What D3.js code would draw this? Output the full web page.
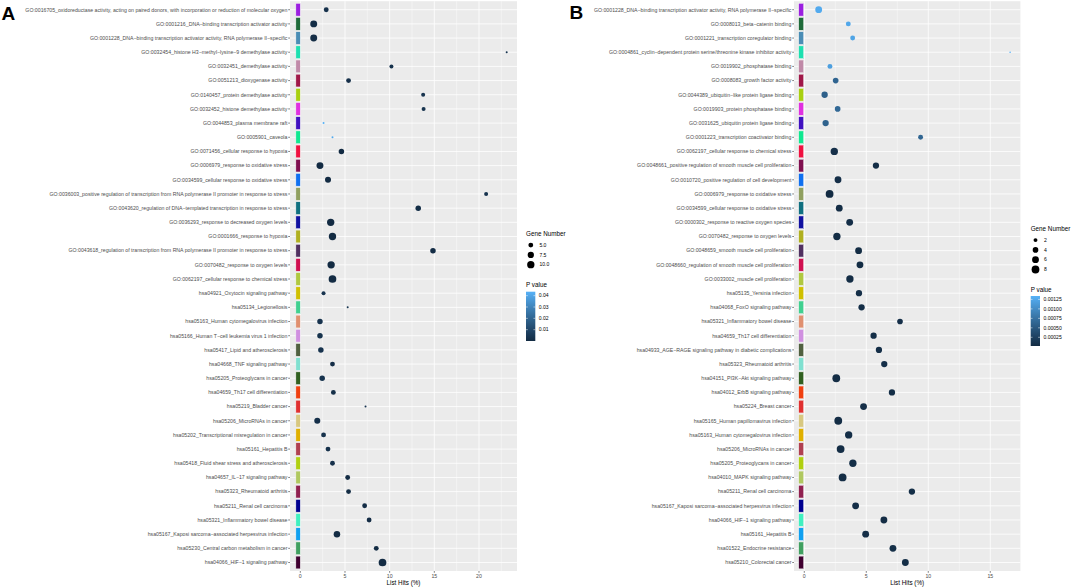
<!DOCTYPE html>
<html>
<head>
<meta charset="utf-8">
<script src="https://cdn.jsdelivr.net/npm/d3@7"></script>
<style>
  body { margin: 0; background: #fff; }
  svg { display: block; font-family: "Liberation Sans", Arial, sans-serif; }
</style>
</head>
<body>
<div class="container"></div>
<script>
// ---- panel A data ----
const termsA = [
  "GO:0016705_oxidoreductase activity, acting on paired donors, with incorporation or reduction of molecular oxygen",
  "GO:0001216_DNA\u2212binding transcription activator activity",
  "GO:0001228_DNA\u2212binding transcription activator activity, RNA polymerase II\u2212specific",
  "GO:0032454_histone H3\u2212methyl\u2212lysine\u22129 demethylase activity",
  "GO:0032451_demethylase activity",
  "GO:0051213_dioxygenase activity",
  "GO:0140457_protein demethylase activity",
  "GO:0032452_histone demethylase activity",
  "GO:0044853_plasma membrane raft",
  "GO:0005901_caveola",
  "GO:0071456_cellular response to hypoxia",
  "GO:0006979_response to oxidative stress",
  "GO:0034599_cellular response to oxidative stress",
  "GO:0036003_positive regulation of transcription from RNA polymerase II promoter in response to stress",
  "GO:0043620_regulation of DNA\u2212templated transcription in response to stress",
  "GO:0036293_response to decreased oxygen levels",
  "GO:0001666_response to hypoxia",
  "GO:0043618_regulation of transcription from RNA polymerase II promoter in response to stress",
  "GO:0070482_response to oxygen levels",
  "GO:0062197_cellular response to chemical stress",
  "hsa04921_Oxytocin signaling pathway",
  "hsa05134_Legionellosis",
  "hsa05163_Human cytomegalovirus infection",
  "hsa05166_Human T\u2212cell leukemia virus 1 infection",
  "hsa05417_Lipid and atherosclerosis",
  "hsa04668_TNF signaling pathway",
  "hsa05205_Proteoglycans in cancer",
  "hsa04659_Th17 cell differentiation",
  "hsa05219_Bladder cancer",
  "hsa05206_MicroRNAs in cancer",
  "hsa05202_Transcriptional misregulation in cancer",
  "hsa05161_Hepatitis B",
  "hsa05418_Fluid shear stress and atherosclerosis",
  "hsa04657_IL\u221217 signaling pathway",
  "hsa05323_Rheumatoid arthritis",
  "hsa05211_Renal cell carcinoma",
  "hsa05321_Inflammatory bowel disease",
  "hsa05167_Kaposi sarcoma\u2212associated herpesvirus infection",
  "hsa05230_Central carbon metabolism in cancer",
  "hsa04066_HIF\u22121 signaling pathway"
];
const hitsA = [2.9, 1.5, 1.5, 23.1, 10.2, 5.4, 13.75, 13.8, 2.6, 3.6,
  4.6, 2.2, 3.1, 20.8, 13.2, 3.4, 3.6, 14.85, 3.45, 3.6,
  2.6, 5.3, 2.2, 2.2, 2.3, 3.6, 2.45, 3.7, 7.3, 1.9,
  2.6, 3.1, 3.6, 5.3, 5.4, 7.2, 7.7, 4.1, 8.5, 9.2];
const genesA = [5, 9, 9, 3, 4, 5, 4, 4, 3, 3,
  6, 9, 7, 4, 6, 10, 10, 6, 10, 11,
  4, 3, 6, 6, 6, 5, 6, 5, 3, 7,
  5, 5, 5, 5, 5, 5, 5, 8, 5, 11];
const pvalA = [0.0021, 0.0008, 0.0006, 0.0032, 0.0025, 0.0019, 0.0034, 0.0033, 0.0435, 0.0412,
  0.00012, 0.00004, 0.00009, 0.0031, 0.0011, 0.00002, 0.00001, 0.0009, 0.00001, 0.00001,
  0.0034, 0.0036, 0.0030, 0.0028, 0.0031, 0.0012, 0.0029, 0.0015, 0.0035, 0.0016,
  0.0026, 0.0023, 0.0021, 0.0004, 0.0006, 0.0009, 0.0005, 0.0003, 0.0002, 0.00001];

// ---- panel B data ----
const termsB = [
  "GO:0001228_DNA\u2212binding transcription activator activity, RNA polymerase II\u2212specific",
  "GO:0008013_beta\u2212catenin binding",
  "GO:0001221_transcription coregulator binding",
  "GO:0004861_cyclin\u2212dependent protein serine/threonine kinase inhibitor activity",
  "GO:0019902_phosphatase binding",
  "GO:0008083_growth factor activity",
  "GO:0044389_ubiquitin\u2212like protein ligase binding",
  "GO:0019903_protein phosphatase binding",
  "GO:0031625_ubiquitin protein ligase binding",
  "GO:0001223_transcription coactivator binding",
  "GO:0062197_cellular response to chemical stress",
  "GO:0048661_positive regulation of smooth muscle cell proliferation",
  "GO:0010720_positive regulation of cell development",
  "GO:0006979_response to oxidative stress",
  "GO:0034599_cellular response to oxidative stress",
  "GO:0000302_response to reactive oxygen species",
  "GO:0070482_response to oxygen levels",
  "GO:0048659_smooth muscle cell proliferation",
  "GO:0048660_regulation of smooth muscle cell proliferation",
  "GO:0033002_muscle cell proliferation",
  "hsa05135_Yersinia infection",
  "hsa04068_FoxO signaling pathway",
  "hsa05321_Inflammatory bowel disease",
  "hsa04659_Th17 cell differentiation",
  "hsa04933_AGE\u2212RAGE signaling pathway in diabetic complications",
  "hsa05323_Rheumatoid arthritis",
  "hsa04151_PI3K\u2212Akt signaling pathway",
  "hsa04012_ErbB signaling pathway",
  "hsa05224_Breast cancer",
  "hsa05165_Human papillomavirus infection",
  "hsa05163_Human cytomegalovirus infection",
  "hsa05206_MicroRNAs in cancer",
  "hsa05205_Proteoglycans in cancer",
  "hsa04010_MAPK signaling pathway",
  "hsa05211_Renal cell carcinoma",
  "hsa05167_Kaposi sarcoma\u2212associated herpesvirus infection",
  "hsa04066_HIF\u22121 signaling pathway",
  "hsa05161_Hepatitis B",
  "hsa01522_Endocrine resistance",
  "hsa05210_Colorectal cancer"
];
const hitsB = [1.16, 3.55, 3.9, 16.6, 2.07, 2.53, 1.64, 2.69, 1.72, 9.38,
  2.42, 5.78, 2.72, 2.04, 2.82, 3.66, 2.63, 4.38, 4.49, 3.68,
  4.41, 4.62, 7.72, 5.59, 6.02, 6.45, 2.58, 7.07, 4.78, 2.74,
  3.58, 2.93, 3.92, 3.09, 8.68, 4.14, 6.42, 4.95, 7.15, 8.15];
const genesB = [6, 3, 3, 1, 3, 4, 5, 4, 5, 3,
  7, 5, 6, 8, 6, 6, 7, 6, 6, 7,
  5, 5, 4, 5, 5, 5, 8, 5, 6, 8,
  7, 8, 7, 8, 5, 6, 6, 6, 6, 6];
const pvalB = [0.00128, 0.00125, 0.00122, 0.00134, 0.00118, 0.00062, 0.00058, 0.00066, 0.0006, 0.00064,
  0.00008, 0.00005, 0.00006, 0.00002, 0.00004, 0.00005, 0.00004, 0.00003, 0.00003, 0.00004,
  0.00006, 0.00005, 0.00007, 0.00006, 0.00005, 0.00007, 0.00004, 0.00005, 0.00006, 0.00004,
  0.00005, 0.00004, 0.00005, 0.00004, 0.00006, 0.00005, 0.00004, 0.00005, 0.00006, 0.00005];

// colour strip beside each row (same order in both panels)
const stripColors = ["#9b1fe0", "#1f6b3a", "#4a8db5", "#1de0b0", "#c08aa8", "#a01848", "#a8d010", "#e030e0",
  "#4010c0", "#10e890", "#f01040", "#801050", "#1070f0", "#90a060", "#107080", "#1010a0",
  "#b0b020", "#503060", "#d01050", "#b0c840", "#d0c000", "#40d090", "#e09070", "#d090e0",
  "#506040", "#80e0d0", "#306020", "#f04010", "#e03030", "#d8c880", "#e0b000", "#b04050",
  "#b0d010", "#b0c860", "#902050", "#000090", "#40f0c0", "#10a0f0", "#40a060", "#400030"];

const xTicksA = [0, 5, 10, 15, 20];
const xTicksB = [0, 5, 10, 15];
const sizeBreaksA = [5, 7.5, 10];
const sizeBreaksB = [2, 4, 6, 8];
const pBreaksA = [0.01, 0.02, 0.03, 0.04];
const pBreaksB = [0.00025, 0.0005, 0.00075, 0.001, 0.00125];

const W = 1072, H = 587;
const svg = d3.select(".container").append("svg")
  .attr("width", W).attr("height", H);

function drawPanel(o) {
  const rows = o.terms.map((t, i) => ({
    term: t, hit: o.hits[i], gene: o.genes[i], p: o.pvals[i], color: stripColors[i]
  }));
  const mx = d3.max(o.hits);
  const x = d3.scaleLinear().domain([-0.05 * mx, 1.05 * mx]).range([o.left, o.right]);
  const y = d3.scalePoint().domain(o.terms).range([o.top, o.bottom]).padding(0.6);
  const step = y.step();

  const tSize = d3.scaleLinear().domain(d3.extent(o.genes)).range([0, 1]);
  const rArea = d3.scaleSqrt().domain([0, 1]).range(o.rRange);
  const r = g => rArea(tSize(g));
  const col = d3.scaleLinear().domain(d3.extent(o.pvals))
    .range(["#132B43", "#56B1F7"]).interpolate(d3.interpolateLab);

  const g = svg.append("g");

  // panel background + grid
  g.append("rect").attr("x", o.left).attr("y", o.top)
    .attr("width", o.right - o.left).attr("height", o.bottom - o.top)
    .attr("fill", "#EBEBEB");
  const [d0, d1] = x.domain();
  const minors = d3.range(Math.ceil(d0 / 2.5) * 2.5, d1, 2.5).filter(v => v % 5 !== 0);
  g.selectAll(".minor").data(minors).join("line")
    .attr("x1", d => x(d)).attr("x2", d => x(d))
    .attr("y1", o.top).attr("y2", o.bottom)
    .attr("stroke", "#fff").attr("stroke-width", 0.4);
  g.selectAll(".major").data(o.xTicks).join("line")
    .attr("x1", d => x(d)).attr("x2", d => x(d))
    .attr("y1", o.top).attr("y2", o.bottom)
    .attr("stroke", "#fff").attr("stroke-width", 0.8);
  g.selectAll(".hgrid").data(o.terms).join("line")
    .attr("x1", o.left).attr("x2", o.right)
    .attr("y1", d => y(d)).attr("y2", d => y(d))
    .attr("stroke", "#fff").attr("stroke-width", 0.8);

  // colour strip
  g.selectAll(".strip").data(rows).join("rect")
    .attr("x", x(o.strip[0])).attr("width", x(o.strip[1]) - x(o.strip[0]))
    .attr("y", d => y(d.term) - step * 0.45).attr("height", step * 0.9)
    .attr("fill", d => d.color)
    .attr("stroke", "#f4f4f4").attr("stroke-width", 0.5);

  // points
  g.selectAll(".dot").data(rows).join("circle")
    .attr("cx", d => x(d.hit)).attr("cy", d => y(d.term))
    .attr("r", d => r(d.gene))
    .attr("fill", d => col(d.p));

  // y axis ticks + labels
  const tick = 1.8;
  g.selectAll(".ytick").data(o.terms).join("line")
    .attr("x1", o.left - tick).attr("x2", o.left)
    .attr("y1", d => y(d)).attr("y2", d => y(d))
    .attr("stroke", "#333").attr("stroke-width", 0.6);
  g.selectAll(".ylab").data(o.terms).join("text")
    .attr("x", o.left - tick - 0.8).attr("y", d => y(d)).attr("dy", "0.35em")
    .attr("text-anchor", "end").attr("font-size", 5.2).attr("fill", "#4D4D4D")
    .text(d => d);

  // x axis
  g.selectAll(".xtick").data(o.xTicks).join("line")
    .attr("x1", d => x(d)).attr("x2", d => x(d))
    .attr("y1", o.bottom).attr("y2", o.bottom + tick)
    .attr("stroke", "#333").attr("stroke-width", 0.6);
  g.selectAll(".xlab").data(o.xTicks).join("text")
    .attr("x", d => x(d)).attr("y", o.bottom + tick + 5.6)
    .attr("text-anchor", "middle").attr("font-size", 5.2).attr("fill", "#4D4D4D")
    .text(d => d);
  g.append("text")
    .attr("x", (o.left + o.right) / 2).attr("y", o.bottom + 14)
    .attr("text-anchor", "middle").attr("font-size", 6.3).attr("fill", "#000")
    .text("List Hits (%)");

  // panel letter
  g.append("text").attr("x", o.letterX).attr("y", o.letterY)
    .attr("font-size", 19).attr("font-weight", "bold").text(o.letter);

  // size legend
  const L = o.legend;
  g.append("text").attr("x", L.x).attr("y", L.sizeTitleY)
    .attr("font-size", 6.3).text("Gene Number");
  const keys = g.selectAll(".key").data(o.sizeBreaks).join("g")
    .attr("transform", (d, i) => `translate(${L.x + 4.8},${L.sizeTitleY + 8.8 + i * 9.8})`);
  keys.append("circle").attr("r", d => r(d)).attr("fill", "#000");
  keys.append("text").attr("x", 8.6).attr("dy", "0.35em")
    .attr("font-size", 5.04).attr("fill", "#000").text(o.sizeFmt);

  // colour bar
  g.append("text").attr("x", L.x).attr("y", L.barTop - 4.5)
    .attr("font-size", 6.3).text("P value");
  const gradId = "grad" + o.letter;
  const grad = svg.append("defs").append("linearGradient").attr("id", gradId)
    .attr("x1", 0).attr("y1", 1).attr("x2", 0).attr("y2", 0);
  const pe = col.domain();
  grad.selectAll("stop").data(d3.range(0, 1.0001, 0.1)).join("stop")
    .attr("offset", d => d)
    .attr("stop-color", d => col(pe[0] + d * (pe[1] - pe[0])));
  const yb = d3.scaleLinear().domain(pe).range([L.barBottom, L.barTop]);
  const bw = 9.3;
  g.append("rect").attr("x", L.x).attr("y", L.barTop)
    .attr("width", bw).attr("height", L.barBottom - L.barTop)
    .attr("fill", `url(#${gradId})`);
  o.pBreaks.forEach(b => {
    [[L.x, L.x + bw / 5], [L.x + bw - bw / 5, L.x + bw]].forEach(([a, c]) => {
      g.append("line").attr("x1", a).attr("x2", c)
        .attr("y1", yb(b)).attr("y2", yb(b))
        .attr("stroke", "#fff").attr("stroke-width", 0.5);
    });
  });
  g.selectAll(".plab").data(o.pBreaks).join("text")
    .attr("x", L.x + bw + 3.5).attr("y", d => yb(d)).attr("dy", "0.35em")
    .attr("font-size", 5.04).attr("fill", "#000").text(o.pFmt);
}

drawPanel({
  terms: termsA, hits: hitsA, genes: genesA, pvals: pvalA,
  left: 290, right: 517, top: 1.2, bottom: 571,
  xTicks: xTicksA, strip: [-0.5, 0], rRange: [1.0, 3.85],
  sizeBreaks: sizeBreaksA, sizeFmt: d3.format(".1f"),
  pBreaks: pBreaksA, pFmt: d3.format(".2f"),
  letter: "A", letterX: 1.5, letterY: 20,
  legend: { x: 526, sizeTitleY: 236.3, barTop: 291.7, barBottom: 341 }
});

drawPanel({
  terms: termsB, hits: hitsB, genes: genesB, pvals: pvalB,
  left: 794, right: 1020.4, top: 1.2, bottom: 571,
  xTicks: xTicksB, strip: [-0.45, -0.05], rRange: [0.8, 3.9],
  sizeBreaks: sizeBreaksB, sizeFmt: d3.format("d"),
  pBreaks: pBreaksB, pFmt: d3.format(".5f"),
  letter: "B", letterX: 569.5, letterY: 19,
  legend: { x: 1030.7, sizeTitleY: 231.3, barTop: 296, barBottom: 346 }
});
</script>
</body>
</html>
